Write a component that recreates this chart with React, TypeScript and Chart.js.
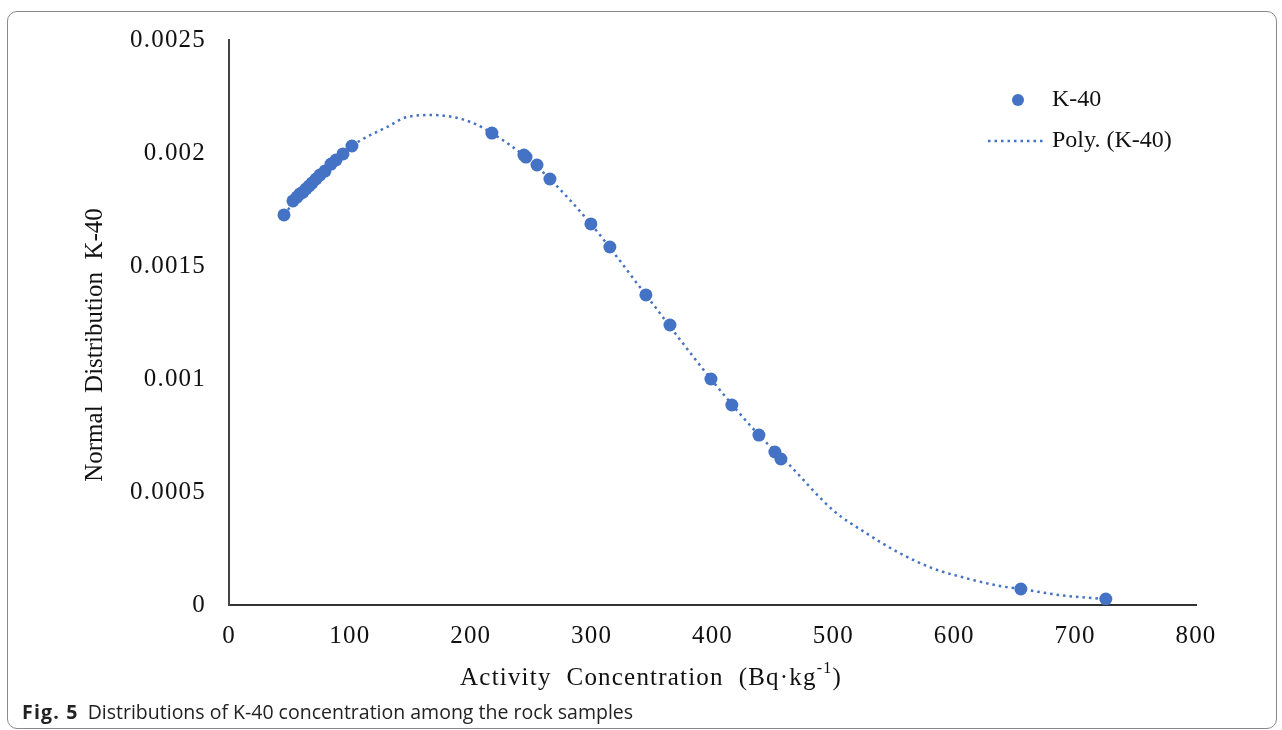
import React, { useEffect, useRef } from "react";
import { Chart, registerables } from "chart.js";

Chart.register(...registerables);

// Measured sample points (Activity concentration, normal distribution value)
const k40X = [45.5, 52.9, 56.2, 58.7, 61.2, 63.7, 66.2, 68.7, 72.0, 75.3, 79.4, 84.4, 88.5, 94.3, 101.7, 217.5, 244.0, 245.7, 254.8, 265.5, 299.4, 315.1, 344.9, 364.8, 398.7, 416.0, 438.4, 451.6, 456.6, 655.1, 725.4];
const k40Y = [0.001726, 0.001788, 0.001805, 0.001819, 0.001827, 0.001841, 0.001854, 0.001867, 0.001885, 0.001903, 0.00192, 0.001951, 0.001969, 0.001996, 0.002031, 0.002088, 0.001991, 0.001982, 0.001947, 0.001885, 0.001686, 0.001584, 0.001372, 0.001239, 0.001, 0.000885, 0.000752, 0.000677, 0.000646, 0.0000708, 0.0000265];

// Polynomial trend line
const polyX = [45.5, 60, 80, 101.7, 110.8, 130.7, 147.2, 168.7, 185.3, 201.8, 217.5, 245, 265.5, 299.4, 344.9, 398.7, 438.4, 462.3, 499.6, 527.4, 555.0, 582.3, 610.2, 637.7, 655.1, 690, 725.4];
const polyY = [0.001726, 0.001823, 0.001923, 0.002031, 0.002062, 0.002115, 0.002159, 0.002168, 0.002159, 0.002133, 0.002088, 0.001985, 0.001885, 0.001686, 0.001372, 0.001, 0.000752, 0.000627, 0.00042, 0.000317, 0.000229, 0.000162, 0.000118, 0.0000841, 0.0000708, 0.000042, 0.0000265];

const yTickLabels = ["0", "0.0005", "0.001", "0.0015", "0.002", "0.0025"];
const xTickLabels = ["0", "100", "200", "300", "400", "500", "600", "700", "800"];

const seriesLabel = "K-40";
const trendLabel = "Poly. (K-40)";
const xTitleMain = "Activity  Concentration  (Bq·kg";
const xTitleSup = "-1";
const xTitleEnd = ")";
const yTitle = "Normal  Distribution  K-40";

const BLUE = "#4472C4";
const SERIF = "'Liberation Serif', 'Times New Roman', serif";

const spacingPlugin = {
  id: "tickSpacing",
  beforeDraw(chart: any) {
    (chart.ctx as any).letterSpacing = "1.2px";
  },
};

const titlePlugin = {
  id: "axisTitles",
  afterDraw(chart: any) {
    const { ctx, chartArea } = chart;
    ctx.save();
    ctx.fillStyle = "#111";
    (ctx as any).letterSpacing = "1.2px";
    ctx.textAlign = "left";
    ctx.textBaseline = "middle";
    const mainFont = "25px " + SERIF;
    const supFont = "16px " + SERIF;
    ctx.font = mainFont;
    const w1 = ctx.measureText(xTitleMain).width;
    const w3 = ctx.measureText(xTitleEnd).width;
    ctx.font = supFont;
    const w2 = ctx.measureText(xTitleSup).width;
    const cx = chartArea.left + 422;
    const cy = chartArea.bottom + 73;
    let x = cx - (w1 + w2 + w3) / 2;
    ctx.font = mainFont;
    ctx.fillText(xTitleMain, x, cy);
    x += w1;
    ctx.font = supFont;
    ctx.fillText(xTitleSup, x, cy - 9);
    x += w2;
    ctx.font = mainFont;
    ctx.fillText(xTitleEnd, x, cy);

    (ctx as any).letterSpacing = "0px";
    ctx.translate(chartArea.left - 134, chartArea.top + 305);
    ctx.rotate(-Math.PI / 2);
    ctx.textAlign = "center";
    ctx.font = "25px " + SERIF;
    ctx.fillText(yTitle, 0, 0);
    ctx.restore();
  },
};

const legendPlugin = {
  id: "innerLegend",
  afterDatasetsDraw(chart: any) {
    const { ctx, chartArea } = chart;
    const baseX = chartArea.right - 144;
    const y1 = chartArea.top + 60;
    const y2 = chartArea.top + 101;
    ctx.save();
    (ctx as any).letterSpacing = "0px";
    ctx.fillStyle = BLUE;
    ctx.beginPath();
    ctx.arc(baseX - 34, y1, 6, 0, Math.PI * 2);
    ctx.fill();
    ctx.strokeStyle = BLUE;
    ctx.lineWidth = 2.5;
    ctx.setLineDash([2.5, 4]);
    ctx.beginPath();
    ctx.moveTo(baseX - 64, y2);
    ctx.lineTo(baseX - 6, y2);
    ctx.stroke();
    ctx.setLineDash([]);
    ctx.fillStyle = "#111";
    ctx.font = "24px " + SERIF;
    ctx.textAlign = "left";
    ctx.textBaseline = "middle";
    ctx.fillText(seriesLabel, baseX, y1);
    ctx.fillText(trendLabel, baseX, y2);
    ctx.restore();
  },
};

export default function App() {
  const canvasRef = useRef<HTMLCanvasElement>(null);

  useEffect(() => {
    document.body.style.margin = "0";
    document.documentElement.style.overflow = "hidden";
    const canvas = canvasRef.current;
    if (!canvas) return;
    const chart = new Chart(canvas, {
      type: "scatter",
      data: {
        datasets: [
          {
            label: seriesLabel,
            data: k40X.map((x, i) => ({ x, y: k40Y[i] })),
            backgroundColor: BLUE,
            borderColor: BLUE,
            pointRadius: 6.5,
            pointBorderWidth: 0,
            showLine: false,
            order: 0,
          },
          {
            label: trendLabel,
            data: polyX.map((x, i) => ({ x, y: polyY[i] })),
            showLine: true,
            borderColor: BLUE,
            borderWidth: 2.5,
            borderDash: [2.5, 4],
            pointRadius: 0,
            cubicInterpolationMode: "monotone",
            fill: false,
            order: 1,
          } as any,
        ],
      },
      options: {
        responsive: false,
        animation: false,
        events: [],
        layout: { padding: { left: 80, right: 86, top: 40, bottom: 7 } },
        plugins: {
          legend: { display: false },
          tooltip: { enabled: false },
          title: { display: false },
        },
        scales: {
          x: {
            type: "linear",
            min: 0,
            max: 800,
            afterFit: (s: any) => {
              s.height = 88;
            },
            afterBuildTicks: (s: any) => {
              s.ticks = xTickLabels.map((t) => ({ value: Number(t) }));
            },
            ticks: {
              padding: 16,
              color: "#111",
              font: { family: SERIF, size: 25 },
              maxRotation: 0,
              callback: (_v: any, i: number) => xTickLabels[i],
            },
            grid: { display: false, drawTicks: false },
            border: { display: true, color: "#333", width: 2 },
            title: { display: false },
          },
          y: {
            type: "linear",
            min: 0,
            max: 0.0025,
            afterFit: (s: any) => {
              s.width = 149;
            },
            afterBuildTicks: (s: any) => {
              s.ticks = yTickLabels.map((t) => ({ value: Number(t) }));
            },
            ticks: {
              padding: 23,
              color: "#111",
              font: { family: SERIF, size: 25 },
              callback: (_v: any, i: number) => yTickLabels[i],
            },
            grid: { display: false, drawTicks: false },
            border: { display: true, color: "#444", width: 2 },
            title: { display: false },
          },
        },
      },
      plugins: [spacingPlugin, titlePlugin, legendPlugin],
    });
    return () => chart.destroy();
  }, []);

  return (
    <div style={{ position: "relative", width: 1282, height: 730, overflow: "hidden", background: "#fff" }}>
      <div
        style={{
          position: "absolute",
          left: 7,
          top: 11,
          width: 1270,
          height: 718,
          boxSizing: "border-box",
          border: "1px solid #8a8a8a",
          borderRadius: 10,
        }}
      />
      <canvas ref={canvasRef} width={1282} height={700} style={{ position: "absolute", left: 0, top: 0, width: 1282, height: 700 }} />
      <div
        style={{
          position: "absolute",
          left: 22,
          top: 698,
          fontFamily: "'Open Sans', sans-serif",
          fontSize: 19.5,
          color: "#222",
          whiteSpace: "pre",
        }}
      >
        <b style={{ letterSpacing: 1.2 }}>Fig. 5</b>
        <span style={{ marginLeft: 9 }}>Distributions of K-40 concentration among the rock samples</span>
      </div>
    </div>
  );
}
